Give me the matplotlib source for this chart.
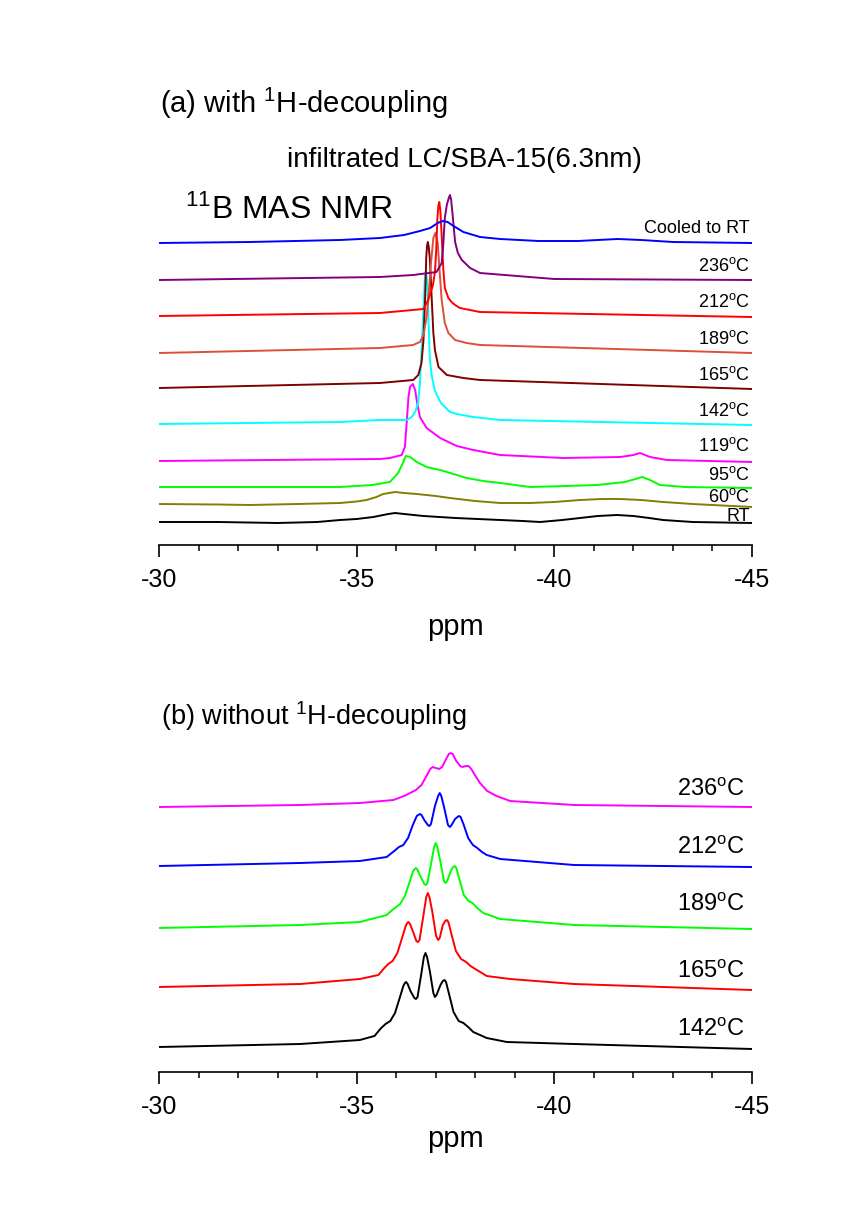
import numpy as np
import matplotlib
matplotlib.use("Agg")
import matplotlib.pyplot as plt
from matplotlib.ticker import MultipleLocator

plt.rcParams['font.family'] = ['Liberation Sans', 'DejaVu Sans']
plt.rcParams['mathtext.fontset'] = 'custom'
plt.rcParams['mathtext.rm'] = 'Liberation Sans'
plt.rcParams['mathtext.it'] = 'Liberation Sans'
plt.rcParams['axes.unicode_minus'] = False

# (a) with 1H-decoupling : ppm / intensity
labels_a = ['RT', '60$^{\\rm o}$C', '95$^{\\rm o}$C', '119$^{\\rm o}$C', '142$^{\\rm o}$C',
            '165$^{\\rm o}$C', '189$^{\\rm o}$C', '212$^{\\rm o}$C', '236$^{\\rm o}$C', 'Cooled to RT']
colors_a = ['black', '#808000', '#00FF00', '#FF00FF', '#00FFFF',
            '#800000', '#DC5038', '#FF0000', '#800080', '#0000FF']
offsets_a = [23, 41, 58, 84, 121, 157, 192, 229, 265, 302]

ppm_a_rt = [-30.0, -31.5, -33.0, -34.0, -34.58, -35.0, -35.42, -35.8, -35.97, -36.2, -36.69, -37.5, -38.63,
            -39.2, -39.64, -40.2, -40.65, -41.1, -41.59, -42.0, -42.4, -42.75, -43.5, -45.0]
int_a_rt = [0, 0, -1, 0, 2, 3, 5, 8, 9, 8, 6, 4, 2, 1, 0, 2, 4, 6, 7, 6, 4, 2, 0, -1]

ppm_a_60 = [-30.0, -31.5, -32.3, -33.5, -34.58, -35.0, -35.25, -35.5, -35.67, -35.97, -36.2, -36.52, -37.0,
            -37.36, -38.0, -38.63, -39.39, -40.0, -40.65, -41.2, -41.67, -42.2, -42.75, -43.5, -45.0]
int_a_60 = [0, -0.5, -1, 0, 1, 2.5, 4, 7, 10, 12, 11, 10, 8, 6, 3, 1, 1, 2, 4, 5, 5, 4, 2, 0, -3]

ppm_a_95 = [-30.0, -34.58, -35.4, -35.84, -36.05, -36.18, -36.24, -36.35, -36.52, -36.77, -37.11, -37.45, -37.78,
            -38.2, -38.63, -39.39, -40.3, -41.08, -41.79, -42.05, -42.22, -42.42, -42.67, -43.3, -45.0]
int_a_95 = [0, 0, 2, 5, 14, 25, 31, 30, 25, 20, 17, 13, 9, 6, 4, 0, 1, 2, 5, 8, 10, 7, 2, 0, -1]

ppm_a_119 = [-30.0, -35.59, -35.84, -36.14, -36.22, -36.27, -36.31, -36.35, -36.42, -36.48, -36.53, -36.60,
             -36.77, -37.11, -37.53, -37.95, -38.63, -40.22, -41.67, -42.0, -42.17, -42.42, -42.85, -45.0]
int_a_119 = [0, 2, 3, 6, 14, 41, 64, 74, 77, 71, 58, 44, 33, 23, 15, 11, 6, 3, 4, 6, 8, 4, 1, -1]

ppm_a_142 = [-30.0, -34.58, -35.59, -36.27, -36.39, -36.48, -36.55, -36.60, -36.65, -36.70, -36.725, -36.75,
             -36.775, -36.80, -36.85, -36.90, -36.98, -37.13, -37.36, -37.53, -37.95, -38.63, -45.0]
int_a_142 = [0, 2, 4, 4, 7, 12, 20, 40, 80, 125, 146, 153, 146, 125, 65, 48, 33, 21, 12, 10, 7, 4, -1]

ppm_a_165 = [-30.0, -35.59, -36.43, -36.56, -36.64, -36.69, -36.73, -36.76, -36.78, -36.80, -36.82, -36.85,
             -36.90, -36.94, -36.98, -37.07, -37.28, -37.70, -38.12, -45.0]
int_a_165 = [0, 5, 8, 13, 25, 48, 88, 130, 142, 146, 142, 130, 88, 55, 38, 21, 13, 10, 8, -1]

ppm_a_189 = [-30.0, -35.59, -36.43, -36.60, -36.69, -36.77, -36.81, -36.88, -36.94, -36.99, -37.05, -37.11,
             -37.15, -37.23, -37.32, -37.49, -37.78, -38.12, -45.0]
int_a_189 = [0, 5, 8, 11, 18, 36, 53, 90, 115, 120, 110, 75, 53, 30, 20, 13, 10, 8, 0]

ppm_a_212 = [-30.0, -35.59, -36.69, -36.81, -36.93, -36.98, -37.01, -37.04, -37.065, -37.09, -37.115, -37.15,
             -37.19, -37.23, -37.32, -37.40, -37.49, -37.61, -38.12, -45.0]
int_a_212 = [0, 3, 7, 16, 31, 44, 64, 96, 110, 114, 106, 81, 48, 28, 18, 14, 11, 8, 4, -1]

ppm_a_236 = [-30.0, -35.59, -36.43, -37.02, -37.15, -37.19, -37.23, -37.28, -37.33, -37.36, -37.39, -37.42,
             -37.49, -37.56, -37.66, -37.87, -38.12, -40.0, -45.0]
int_a_236 = [0, 3, 5, 8, 17, 35, 62, 75, 82, 85, 80, 68, 38, 27, 20, 12, 7, 1, 0]

ppm_a_cool = [-30.0, -32.3, -34.58, -35.59, -36.2, -36.6, -36.86, -37.05, -37.18, -37.3, -37.45, -37.7, -38.12,
              -38.63, -39.6, -40.6, -41.1, -41.6, -42.2, -43.0, -45.0]
int_a_cool = [0, 1, 3, 5, 8, 12, 15, 20, 22, 21, 17, 11, 6, 4, 2, 2, 3, 4, 3, 1, 0]

ppm_a = [ppm_a_rt, ppm_a_60, ppm_a_95, ppm_a_119, ppm_a_142, ppm_a_165, ppm_a_189, ppm_a_212, ppm_a_236, ppm_a_cool]
int_a = [int_a_rt, int_a_60, int_a_95, int_a_119, int_a_142, int_a_165, int_a_189, int_a_212, int_a_236, int_a_cool]
label_y_a = [28, 48, 70, 99, 134, 170, 206, 243, 279, 316]

# (b) without 1H-decoupling
labels_b = ['142$^{\\rm o}$C', '165$^{\\rm o}$C', '189$^{\\rm o}$C', '212$^{\\rm o}$C', '236$^{\\rm o}$C']
colors_b = ['black', '#FF0000', '#00FF00', '#0000FF', '#FF00FF']
offsets_b = [25, 85, 144, 206, 265]

ppm_b_142 = [-30.0, -33.57, -35.08, -35.45, -35.62, -35.73, -35.85, -35.97, -36.08, -36.18, -36.22, -36.25,
             -36.29, -36.36, -36.46, -36.50, -36.54, -36.63, -36.70, -36.74, -36.78, -36.85, -36.94, -36.98,
             -37.02, -37.12, -37.18, -37.22, -37.26, -37.33, -37.45, -37.58, -37.70, -37.82, -37.95, -38.29,
             -38.80, -40.5, -45.0]
int_b_142 = [0, 3, 7, 11, 19, 23, 26, 34, 48, 61, 64, 65, 63, 56, 49, 48, 50, 72, 90, 94, 90, 76, 54, 50,
             52, 62, 66, 67, 65, 54, 35, 26, 24, 20, 15, 9, 5, 3, -2]

ppm_b_165 = [-30.0, -33.57, -35.08, -35.55, -35.70, -35.80, -35.91, -36.03, -36.14, -36.24, -36.28, -36.31,
             -36.35, -36.42, -36.51, -36.55, -36.59, -36.69, -36.76, -36.80, -36.84, -36.91, -37.01, -37.06,
             -37.10, -37.18, -37.24, -37.28, -37.32, -37.39, -37.51, -37.64, -37.77, -37.88, -38.00, -38.29,
             -38.88, -40.5, -45.0]
int_b_165 = [0, 3, 8, 12, 19, 23, 26, 34, 48, 61, 64, 65, 63, 56, 46, 45, 47, 72, 90, 94, 90, 76, 51, 47,
             49, 62, 66, 67, 65, 54, 36, 28, 25, 21, 18, 11, 8, 3, -3]

ppm_b_189 = [-30.0, -33.57, -35.08, -35.76, -35.90, -36.00, -36.10, -36.22, -36.33, -36.43, -36.47, -36.50,
             -36.54, -36.61, -36.71, -36.75, -36.79, -36.89, -36.96, -37.00, -37.04, -37.11, -37.21, -37.25,
             -37.29, -37.38, -37.44, -37.48, -37.52, -37.59, -37.71, -37.83, -37.93, -38.05, -38.20, -38.63,
             -40.5, -45.0]
int_b_189 = [0, 3, 6, 13, 18, 21, 24, 32, 45, 57, 59, 60, 58, 52, 44, 43, 45, 66, 81, 85, 81, 68, 47, 45,
             47, 57, 61, 62, 60, 50, 33, 27, 25, 20, 15, 9, 3, -1]

ppm_b_212 = [-30.0, -33.57, -35.08, -35.76, -35.95, -36.07, -36.18, -36.30, -36.42, -36.52, -36.56, -36.60,
             -36.64, -36.71, -36.80, -36.84, -36.88, -36.98, -37.06, -37.10, -37.14, -37.21, -37.31, -37.36,
             -37.40, -37.49, -37.55, -37.59, -37.63, -37.70, -37.82, -37.94, -38.05, -38.17, -38.29, -38.63,
             -40.5, -45.0]
int_b_212 = [0, 3, 5, 9, 15, 19, 21, 28, 41, 50, 51, 52, 51, 46, 41, 40, 42, 60, 70, 73, 70, 59, 41, 39,
             41, 47, 49, 50, 49, 42, 28, 21, 18, 14, 11, 7, 1, -1]

ppm_b_236 = [-30.0, -33.57, -35.08, -35.93, -36.20, -36.35, -36.50, -36.64, -36.78, -36.86, -36.92, -37.00,
             -37.09, -37.16, -37.25, -37.33, -37.38, -37.43, -37.52, -37.62, -37.68, -37.76, -37.83, -37.90,
             -37.99, -38.12, -38.30, -38.54, -38.88, -40.5, -45.0]
int_b_236 = [0, 2, 4, 7, 11, 14, 17, 22, 32, 38, 40, 39, 38, 40, 47, 53, 54, 53, 46, 41, 40, 41, 41, 38,
             32, 24, 16, 11, 6, 2, 0]

ppm_b = [ppm_b_142, ppm_b_165, ppm_b_189, ppm_b_212, ppm_b_236]
int_b = [int_b_142, int_b_165, int_b_189, int_b_212, int_b_236]
label_y_b = [42, 100, 167, 224, 282]

xticks = [-30, -35, -40, -45]

fig = plt.figure(figsize=(8.41, 12.07), dpi=100)
W, H = 841.0, 1207.0

ax_a = fig.add_axes([159 / W, 1 - 545 / H, 593 / W, 360 / H])
ax_b = fig.add_axes([159 / W, 1 - 1072 / H, 593 / W, 332 / H])


def style_axis(ax, ymax, labelpad):
    ax.set_xlim(-30, -45)
    ax.set_ylim(0, ymax)
    for s in ['left', 'right', 'top']:
        ax.spines[s].set_visible(False)
    ax.spines['bottom'].set_linewidth(1.2)
    ax.set_yticks([])
    ax.set_xticks(xticks)
    ax.set_xticklabels([str(t) for t in xticks])
    ax.xaxis.set_minor_locator(MultipleLocator(1))
    ax.tick_params(axis='x', which='major', direction='out', length=8.6, width=1.2, labelsize=18, pad=8)
    ax.tick_params(axis='x', which='minor', direction='out', length=4.3, width=1.1)
    ax.set_xlabel('ppm', fontsize=21, labelpad=labelpad)
    ax.patch.set_alpha(0)


# panel (a), drawn from bottom to top
for i in range(len(ppm_a)):
    y = offsets_a[i] + np.array(int_a[i], dtype=float)
    ax_a.plot(ppm_a[i], y, color=colors_a[i], lw=1.4)
    ax_a.text(-44.95, label_y_a[i], labels_a[i], ha='right', va='center', fontsize=13, clip_on=False)
style_axis(ax_a, 360, 15)

# panel (b)
for i in range(len(ppm_b)):
    y = offsets_b[i] + np.array(int_b[i], dtype=float)
    ax_b.plot(ppm_b[i], y, color=colors_b[i], lw=1.4)
    ax_b.text(-44.82, label_y_b[i], labels_b[i], ha='right', va='center', fontsize=17, clip_on=False)
style_axis(ax_b, 332, 4.5)

fig.text(160 / W, 1 - 113 / H, '(a) with $^{1}$H-decoupling', fontsize=21, va='baseline')
fig.text(287 / W, 1 - 167 / H, 'infiltrated LC/SBA-15(6.3nm)', fontsize=20, va='baseline')
fig.text(185 / W, 1 - 219 / H, '$^{11}$B MAS NMR', fontsize=23, va='baseline')
fig.text(161 / W, 1 - 725 / H, '(b) without $^{1}$H-decoupling', fontsize=19.5, va='baseline')

fig.savefig('out.png', dpi=100, facecolor='white')
